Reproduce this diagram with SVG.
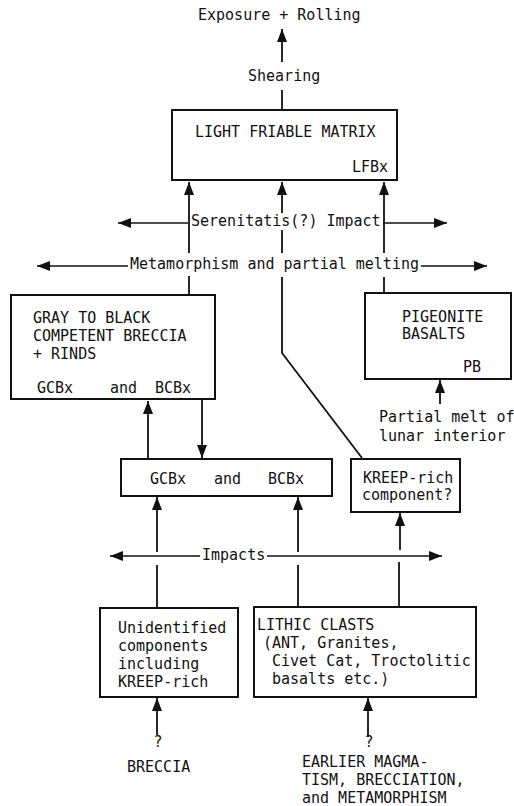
<svg xmlns="http://www.w3.org/2000/svg" width="514" height="806" viewBox="0 0 514 806">
<defs>
<style>
text{font-family:"DejaVu Sans Mono","Liberation Mono",monospace;font-size:15px;fill:#111}
.box{fill:#fff;stroke:#111;stroke-width:2}
.c{fill:none;stroke:#111;stroke-width:1.8}
.h{fill:none;stroke:#111;stroke-width:1.4}
.end{text-anchor:end}
.mid{text-anchor:middle}
</style>
<marker id="ah" markerUnits="userSpaceOnUse" markerWidth="14" markerHeight="10" refX="13" refY="5" orient="auto">
<path d="M0,0 L13,5 L0,10 Z" fill="#111"/>
</marker>
</defs>
<rect width="514" height="806" fill="#fff"/>

<g id="connectors">
<path class="c" d="M282,62 V29" marker-end="url(#ah)"/>
<path class="c" d="M282,90 V110"/>
<path class="c" d="M189,295 V276"/>
<path class="c" d="M189,253 V182" marker-end="url(#ah)"/>
<path class="c" d="M362,458 L282,353 V277"/>
<path class="c" d="M282,253 V230"/>
<path class="c" d="M282,213 V182" marker-end="url(#ah)"/>
<path class="c" d="M384,292 V277"/>
<path class="c" d="M384,253 V182" marker-end="url(#ah)"/>
<path class="h" d="M188,223 H118" marker-end="url(#ah)"/>
<path class="h" d="M383,223 H447" marker-end="url(#ah)"/>
<path class="h" d="M128,266 H37" marker-end="url(#ah)"/>
<path class="h" d="M421,266 H487" marker-end="url(#ah)"/>
<path class="c" d="M440,404 V380" marker-end="url(#ah)"/>
<path class="c" d="M148,459 V401" marker-end="url(#ah)"/>
<path class="c" d="M202,400 V458" marker-end="url(#ah)"/>
<path class="c" d="M157,552 V497" marker-end="url(#ah)"/>
<path class="c" d="M298,552 V497" marker-end="url(#ah)"/>
<path class="c" d="M400,550 V513" marker-end="url(#ah)"/>
<path class="h" d="M200,556 H110" marker-end="url(#ah)"/>
<path class="h" d="M267,556 H442" marker-end="url(#ah)"/>
<path class="c" d="M157,565 V608"/>
<path class="c" d="M298,565 V607"/>
<path class="c" d="M399,562 V607"/>
<path class="c" d="M157,735 V698" marker-end="url(#ah)"/>
<path class="c" d="M368,737 V698" marker-end="url(#ah)"/>
</g>

<g id="labels">
<text x="198" y="20">Exposure + Rolling</text>
<text x="248" y="81">Shearing</text>
<text x="191" y="226">Serenitatis(?) Impact</text>
<text x="130" y="269">Metamorphism and partial melting</text>
<text x="379" y="422">Partial melt of</text>
<text x="379" y="441">lunar interior</text>
<text x="202" y="560">Impacts</text>
</g>

<g id="lfbx">
<rect class="box" x="172" y="110" width="225" height="70"/>
<text x="195" y="137">LIGHT FRIABLE MATRIX</text>
<text class="end" x="388" y="172">LFBx</text>
</g>

<g id="gcbx-upper">
<rect class="box" x="11" y="295" width="204" height="104"/>
<text x="33" y="323">GRAY TO BLACK</text>
<text x="33" y="341">COMPETENT BRECCIA</text>
<text x="33" y="359">+ RINDS</text>
<text x="37" y="393">GCBx</text>
<text x="110" y="393">and</text>
<text x="155" y="393">BCBx</text>
</g>

<g id="pb">
<rect class="box" x="365" y="293" width="146" height="86"/>
<text x="402" y="322">PIGEONITE</text>
<text x="402" y="339">BASALTS</text>
<text class="end" x="481" y="372">PB</text>
</g>

<g id="gcbx-lower">
<rect class="box" x="121" y="459" width="211" height="37"/>
<text x="150" y="484">GCBx</text>
<text x="214" y="484">and</text>
<text x="268" y="484">BCBx</text>
</g>

<g id="kreep">
<rect class="box" x="351" y="459" width="109" height="53"/>
<text x="363" y="483">KREEP-rich</text>
<text x="362" y="500">component?</text>
</g>

<g id="unidentified">
<rect class="box" x="100" y="608" width="138" height="89"/>
<text x="118" y="633">Unidentified</text>
<text x="118" y="651">components</text>
<text x="118" y="669">including</text>
<text x="118" y="687">KREEP-rich</text>
</g>

<g id="lithic">
<rect class="box" x="254" y="607" width="222" height="90"/>
<text x="257" y="630">LITHIC CLASTS</text>
<text x="263" y="648">(ANT, Granites,</text>
<text x="272" y="666">Civet Cat, Troctolitic</text>
<text x="272" y="684">basalts etc.)</text>
</g>

<g id="breccia">
<text class="mid" x="158" y="747">?</text>
<text x="127" y="772">BRECCIA</text>
</g>

<g id="earlier">
<text class="mid" x="369" y="747">?</text>
<text x="302" y="767">EARLIER MAGMA-</text>
<text x="302" y="785">TISM, BRECCIATION,</text>
<text x="302" y="803">and METAMORPHISM</text>
</g>
</svg>
